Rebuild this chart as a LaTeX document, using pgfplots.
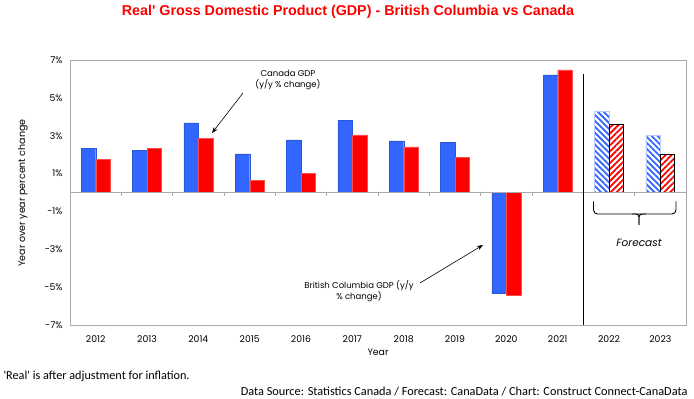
\documentclass[border=0pt]{standalone}
\usepackage{fontspec}
\setmainfont{Poppins}
\newfontfamily\titlefont{Liberation Sans}
\newfontfamily\calfont{Carlito}
\usepackage{pgfplots}
\usepackage{pgfplotstable}
\pgfplotsset{compat=1.18}
\usetikzlibrary{patterns.meta,arrows.meta}
\definecolor{bcblue}{RGB}{51,102,255}
\definecolor{canred}{RGB}{255,0,0}
\definecolor{framegray}{RGB}{170,170,170}

\pgfplotstableread{
x bc can
0 2.35 1.76
1 2.24 2.33
2 3.68 2.87
3 2.04 0.65
4 2.78 1.00
5 3.82 3.05
6 2.73 2.41
7 2.66 1.85
8 -5.34 -5.42
9 6.22 6.48
}\actual
\pgfplotstableread{
x bc can
10 4.30 3.61
11 3.00 2.00
}\forecast

\begin{document}
\begin{tikzpicture}[x=1pt,y=1pt]
\useasboundingbox (0,0) rectangle (694,399);
\begin{axis}[
  at={(70pt,74pt)}, anchor=south west,
  scale only axis, width=616pt, height=265pt,
  xmin=-0.5, xmax=11.5, ymin=-7, ymax=7,
  xtick={0,...,11},
  xticklabels={2012,2013,2014,2015,2016,2017,2018,2019,2020,2021,2022,2023},
  ytick={-7,-5,-3,-1,1,3,5,7},
  yticklabels={-7\%,-5\%,-3\%,-1\%,1\%,3\%,5\%,7\%},
  major tick length=0pt,
  axis line style={framegray, line width=0.8pt},
  ticklabel style={font=\fontsize{9.3}{11}\selectfont},
  xticklabel style={yshift=-7pt},
  yticklabel style={xshift=-4pt},
  clip=false,
]
\addplot[ybar, bar width=14.5pt, bar shift=-7.25pt, fill=bcblue, draw=bcblue!85!black, line width=0.3pt] table[x=x,y=bc]{\actual};
\addplot[ybar, bar width=14.5pt, bar shift=7.25pt, fill=canred, draw=canred!70!white, line width=0.3pt] table[x=x,y=can]{\actual};
\addplot[ybar, bar width=14.5pt, bar shift=-7.25pt, draw=bcblue!35, line width=0.6pt,
  pattern={Lines[angle=-45,distance=4.2pt,line width=1.8pt]}, pattern color=bcblue] table[x=x,y=bc]{\forecast};
\addplot[ybar, bar width=14.5pt, bar shift=7.25pt, draw=black, line width=0.8pt,
  pattern={Lines[angle=45,distance=4.2pt,line width=1.8pt]}, pattern color=canred] table[x=x,y=can]{\forecast};
\draw[framegray, line width=0.8pt] (axis cs:-0.5,0) -- (axis cs:11.5,0);
\end{axis}
% tick marks on zero line
\foreach \k in {1,...,11} {
  \draw[framegray, line width=0.6pt] ({70+51.333*\k},207) -- ++(0,-4);
}
% forecast separator
\draw[black, line width=0.8pt] (583.5,325) -- (583.5,74);
% brace
\draw[black, line width=0.9pt, rounded corners=4pt] (593.5,197.5) -- (593.5,185) -- (676,185) -- (676,197.5);
\draw[black, line width=0.9pt, rounded corners=3pt] (632,185) -- (639,185) -- (639,174);
\draw[black, line width=0.9pt, rounded corners=3pt] (646,185) -- (639,185) -- (639,174);
\node[font=\itshape\fontsize{10.5}{12}\selectfont] at (639,156) {Forecast};
% annotations
\node[align=center, font=\fontsize{8.5}{10.5}\selectfont] at (288,319) {Canada GDP\\(y/y \% change)};
\draw[-{Stealth[length=6pt,width=4.5pt]}, line width=0.6pt] (243,306) -- (212,266);
\node[align=center, font=\fontsize{8.5}{10.5}\selectfont] at (359,108) {British Columbia GDP (y/y\\\% change)};
\draw[-{Stealth[length=6pt,width=4.5pt]}, line width=0.6pt] (420,116) -- (483,154);
% axis titles
\node[rotate=90, font=\fontsize{9.5}{11}\selectfont] at (23,206) {Year over year percent change};
\node[font=\fontsize{9.3}{11}\selectfont] at (378,47) {Year};
% title
\node[font=\titlefont\bfseries\fontsize{14.3}{17}\selectfont, text=canred] at (348,387) {Real' Gross Domestic Product (GDP) - British Columbia vs Canada};
% footers
\node[anchor=west, font=\calfont\fontsize{12.2}{14}\selectfont] at (0,23) {'Real' is after adjustment for inflation.};
\node[anchor=east, font=\calfont\fontsize{12.3}{14}\selectfont] at (691,8) {Data Source: Statistics Canada / Forecast: CanaData / Chart: Construct Connect-CanaData};
\end{tikzpicture}
\end{document}
